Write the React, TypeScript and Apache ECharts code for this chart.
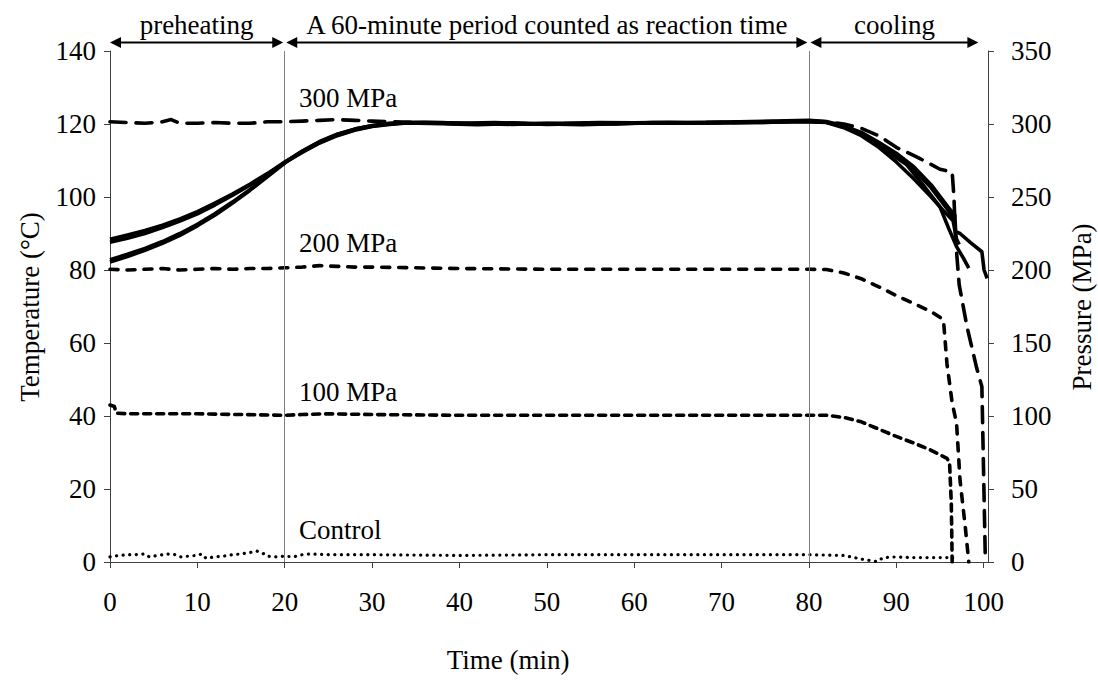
import React, { useEffect, useRef } from 'react';
import * as echarts from 'echarts';

const FONT = 'Liberation Serif, Times New Roman, serif';
const FS = 27;

// Time axis ticks (min)
const timeTicks = [0, 10, 20, 30, 40, 50, 60, 70, 80, 90, 100];
// Phase boundaries (min): preheating 0–20, reaction 20–80, cooling 80–end
const phaseBounds = [0, 20, 80, 99.4];
const phaseLabels = ['preheating', 'A 60-minute period counted as reaction time', 'cooling'];
const pressureLabels = ['300 MPa', '200 MPa', '100 MPa', 'Control'];

// Temperature replicates [time (min), temperature (°C)]
const tempRun1 = [
  [0, 88.4], [2, 89.6], [4, 90.8], [6, 92.3], [8, 94], [10, 96], [12, 98.3], [14, 100.8], [16, 103.5],
  [18, 106.4], [20, 109.6], [22, 112.4], [24, 114.9], [26, 116.9], [28, 118.4], [30, 119.4], [32, 120],
  [34, 120.4], [36, 120.5], [40, 120.2], [44, 120.4], [48, 120.1], [52, 120.2], [56, 120.4], [60, 120.3],
  [64, 120.5], [68, 120.4], [72, 120.6], [76, 120.8], [80, 121], [82, 120.7], [84, 119.5], [86, 117.7],
  [88, 115], [90, 112], [92, 108.3], [94, 103.3], [96, 97], [96.7, 95.1], [96.8, 90.5], [97.3, 90],
  [98.5, 87.5], [99.8, 85], [100.05, 80], [100.4, 77.7],
];
const tempRun2 = [
  [0, 87.6], [2, 88.7], [4, 90], [6, 91.6], [8, 93.4], [10, 95.4], [12, 97.8], [14, 100.4], [16, 103.2],
  [18, 106.2], [20, 109.4], [22, 112.2], [24, 114.8], [26, 116.8], [28, 118.3], [30, 119.3], [32, 119.9],
  [34, 120.3], [38, 120.4], [42, 120], [46, 120.3], [50, 119.9], [54, 120.1], [58, 120.3], [62, 120.2],
  [66, 120.3], [70, 120.4], [74, 120.5], [78, 120.7], [80, 120.8], [82, 120.5], [84, 119.2], [86, 117.2],
  [88, 114.3], [90, 110.8], [91.2, 108.8], [93, 103.5], [95, 97.3], [96, 91.4], [96.9, 86.4],
  [97.7, 83.2], [98.3, 80.5],
];
const tempRun3 = [
  [0, 82.8], [2, 84.3], [4, 85.9], [6, 87.8], [8, 90], [10, 92.5], [12, 95.4], [14, 98.6], [16, 102],
  [18, 105.7], [20, 109.5], [22, 112.6], [24, 115.2], [26, 117.2], [28, 118.6], [30, 119.5], [32, 120.1],
  [34, 120.3], [38, 120.1], [42, 119.8], [46, 120.1], [50, 120], [54, 119.8], [58, 120.1], [62, 120.3],
  [66, 120.2], [70, 120.3], [74, 120.4], [78, 120.6], [80, 120.6], [82, 120.4], [84, 119], [86, 116.8],
  [88, 113.6], [90, 109.6], [92, 105], [94, 100], [95.5, 96], [96.5, 93.5], [96.9, 88.5], [97.2, 87],
];
const tempRun4 = [
  [0, 82.2], [2, 83.7], [4, 85.4], [6, 87.3], [8, 89.5], [10, 92.1], [12, 95], [14, 98.3], [16, 101.8],
  [18, 105.5], [20, 109.3], [22, 112.5], [24, 115.1], [26, 117.1], [28, 118.6], [30, 119.6], [32, 120.2],
  [34, 120.4], [38, 120.3], [42, 120.1], [46, 119.9], [50, 120.2], [54, 120.1], [58, 120], [62, 120.4],
  [66, 120.3], [70, 120.5], [74, 120.4], [78, 120.6], [80, 120.7], [82, 120.5], [84, 119.3], [86, 117.4],
  [88, 114.6], [90, 111.4], [92, 107.5], [94, 102.5], [96, 96.2], [96.6, 94.2], [96.7, 92],
];

// Pressure records [time (min), pressure (MPa)]
const press300 = [
  [0, 301.5], [2, 301], [4, 300.5], [6, 301.5], [7, 303], [8, 300.5], [10, 300.5], [12, 301], [14, 300.5],
  [16, 300.5], [18, 301.5], [20, 301.5], [22, 302], [24, 302.5], [26, 303], [28, 302.5], [30, 302],
  [35, 301], [40, 300], [50, 300], [60, 300.5], [70, 301], [80, 302], [82, 301.5], [84, 300], [86, 297],
  [88, 292], [90, 284], [92.5, 277], [95, 269], [96.4, 267], [96.6, 250], [96.8, 220], [97.2, 190],
  [98.1, 161], [99.2, 133], [99.8, 120], [100, 60], [100.2, 0],
];
const press200 = [
  [0, 200.5], [2, 200], [4, 200.5], [6, 201], [8, 200], [10, 200.5], [12, 201], [14, 200.5], [16, 201],
  [18, 201], [20, 201.5], [22, 202], [24, 203], [26, 202.5], [28, 202], [30, 202], [35, 201.5], [40, 201],
  [50, 200.5], [60, 200.5], [70, 200.5], [80, 200.5], [82, 200.3], [84, 198], [86, 194], [88, 188.5],
  [90, 182.5], [92, 177], [94, 171.5], [95.4, 166], [95.8, 136], [96.4, 109], [96.9, 95], [97.3, 56],
  [97.9, 24], [98.3, 0],
];
const press100 = [
  [0, 107.5], [0.5, 106.5], [0.7, 102], [2, 101.5], [5, 101.5], [10, 101.5], [15, 101], [20, 100.5],
  [22, 101], [25, 101.5], [30, 101], [40, 100.5], [50, 100.5], [60, 100.5], [70, 100.5], [80, 100.5],
  [82, 100.5], [84, 99], [86, 96], [88, 91], [90, 86], [92, 81.5], [94, 76.5], [95.8, 71], [96.1, 68],
  [96.3, 40], [96.4, 0],
];
const pressControl = [
  [0, 3.5], [1, 4.5], [2, 5], [3, 5], [4, 5.5], [4.5, 3.5], [5.5, 4.5], [6.5, 5.5], [7.5, 5], [8, 3.5],
  [9, 4], [10, 4.5], [10.5, 5.5], [11, 2.5], [12, 3.5], [13, 4], [14, 5], [15, 5.5], [16, 6.5],
  [16.8, 7.5], [17.5, 6], [18, 4], [19, 3.5], [20, 4], [21, 3.5], [22, 5], [23, 5.5], [25, 5], [30, 5],
  [40, 4.5], [50, 5], [60, 5], [70, 5], [80, 5], [84, 4.5], [86, 2], [87.8, 0.3], [88.5, 3], [90, 3.5],
  [92, 3], [94, 3], [96, 3], [96.4, 3.5], [96.6, 0],
];

export default function App() {
  const ref = useRef<HTMLDivElement>(null);

  useEffect(() => {
    document.body.style.margin = '0';
    const chart = echarts.init(ref.current!, null, { renderer: 'svg' });
    const axisColor = '#404040';
    const tempSeries = (data: number[][]) => ({
      type: 'line',
      data,
      yAxisIndex: 0,
      showSymbol: false,
      symbol: 'none',
      lineStyle: { color: '#000', width: 3.6 },
      z: 5,
    });
    const pressSeries = (data: number[][], dash: number[] | string, width: number) => ({
      type: 'line',
      data,
      yAxisIndex: 1,
      showSymbol: false,
      symbol: 'none',
      lineStyle: { color: '#000', width, type: dash, cap: 'round', join: 'round' },
      z: 4,
    });

    chart.setOption({
      animation: false,
      backgroundColor: '#fff',
      textStyle: { fontFamily: FONT },
      grid: { left: 110, right: 110, top: 51, bottom: 120, containLabel: false },
      xAxis: {
        type: 'value',
        min: 0,
        max: 100.5,
        interval: 10,
        axisLine: { show: true, onZero: false, lineStyle: { color: axisColor, width: 1 } },
        axisTick: { show: true, length: 6, lineStyle: { color: axisColor } },
        axisLabel: {
          margin: 26,
          fontSize: FS,
          fontFamily: FONT,
          color: '#000',
          showMaxLabel: false,
          formatter: (v: number) => (timeTicks.includes(v) ? String(v) : ''),
        },
        splitLine: { show: false },
      },
      yAxis: [
        {
          type: 'value',
          min: 0,
          max: 140,
          interval: 20,
          position: 'left',
          axisLine: { show: true, lineStyle: { color: axisColor, width: 1 } },
          axisTick: { show: true, length: 6, lineStyle: { color: axisColor } },
          axisLabel: { margin: 14, fontSize: FS, fontFamily: FONT, color: '#000' },
          splitLine: { show: false },
        },
        {
          type: 'value',
          min: 0,
          max: 350,
          interval: 50,
          position: 'right',
          axisLine: { show: true, lineStyle: { color: axisColor, width: 1 } },
          axisTick: { show: true, length: 6, lineStyle: { color: axisColor } },
          axisLabel: { margin: 23, fontSize: FS, fontFamily: FONT, color: '#000' },
          splitLine: { show: false },
        },
      ],
      series: [
        {
          ...pressSeries(pressControl, [0.1, 6.5], 3.2),
          markLine: {
            silent: true,
            symbol: 'none',
            label: { show: false },
            lineStyle: { color: '#808080', width: 1, type: 'solid' },
            data: [{ xAxis: phaseBounds[1] }, { xAxis: phaseBounds[2] }],
          },
        },
        pressSeries(press100, [7, 6], 3.6),
        pressSeries(press200, [8, 9], 3.6),
        pressSeries(press300, [16, 10], 3.6),
        tempSeries(tempRun1),
        tempSeries(tempRun2),
        tempSeries(tempRun3),
        tempSeries(tempRun4),
      ],
    });

    const px = (t: number) => chart.convertToPixel({ xAxisIndex: 0 }, t) as number;
    const arrowY = 42.5;
    const headL = 11;
    const headW = 5.5;
    const graphics: any[] = [];
    const textStyle = (text: string, align: string) => ({
      text,
      fontFamily: FONT,
      fontSize: FS,
      fill: '#000',
      align,
      verticalAlign: 'middle',
    });
    for (let i = 0; i < 3; i++) {
      const x1 = px(phaseBounds[i]) + (i === 0 ? 0 : 1.5);
      const x2 = px(phaseBounds[i + 1]) - (i === 2 ? 0 : 1.5);
      graphics.push({
        type: 'line',
        shape: { x1: x1 + headL - 1, y1: arrowY, x2: x2 - headL + 1, y2: arrowY },
        style: { stroke: '#000', lineWidth: 2 },
      });
      graphics.push({
        type: 'polygon',
        shape: { points: [[x1, arrowY], [x1 + headL, arrowY - headW], [x1 + headL, arrowY + headW]] },
        style: { fill: '#000' },
      });
      graphics.push({
        type: 'polygon',
        shape: { points: [[x2, arrowY], [x2 - headL, arrowY - headW], [x2 - headL, arrowY + headW]] },
        style: { fill: '#000' },
      });
      graphics.push({ type: 'text', x: (x1 + x2) / 2, y: 25, style: textStyle(phaseLabels[i], 'center') });
    }
    const labelY = [98, 243, 392, 530];
    pressureLabels.forEach((t, i) => {
      graphics.push({ type: 'text', x: 299, y: labelY[i], style: textStyle(t, 'left') });
    });
    graphics.push({ type: 'text', x: 508, y: 660, style: textStyle('Time (min)', 'center') });
    graphics.push({
      type: 'text',
      x: 30,
      y: 307,
      rotation: Math.PI / 2,
      style: textStyle('Temperature (°C)', 'center'),
    });
    graphics.push({
      type: 'text',
      x: 1082,
      y: 307,
      rotation: Math.PI / 2,
      style: textStyle('Pressure (MPa)', 'center'),
    });
    chart.setOption({ graphic: graphics });

    return () => chart.dispose();
  }, []);

  return <div ref={ref} style={{ width: 1098, height: 682 }} />;
}
